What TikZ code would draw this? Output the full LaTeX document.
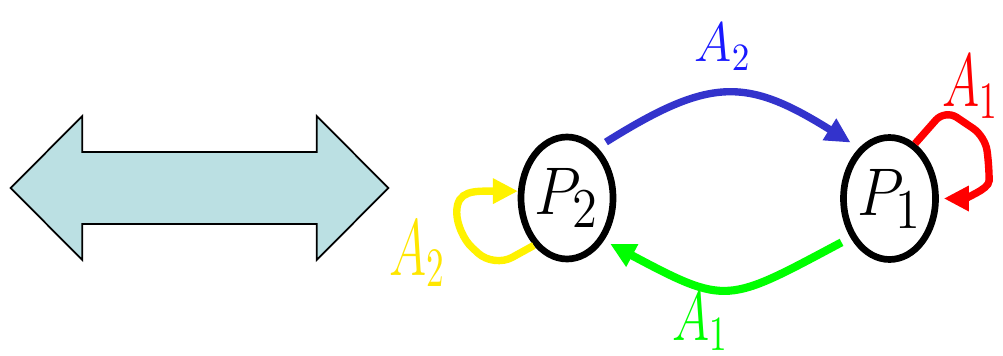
\documentclass[tikz,border=0pt]{standalone}
\usepackage{amsmath,amssymb}
\usepackage{xcolor}
\usetikzlibrary{shapes.geometric,arrows.meta}

\definecolor{arrowfill}{RGB}{187,224,227}
\definecolor{arcblue}{RGB}{51,51,204}
\definecolor{labblue}{RGB}{25,25,255}
\definecolor{labyellow}{RGB}{255,230,0}
\newcommand{\stretchlab}[2]{\scalebox{1}[#1]{$#2$}}

\begin{document}
\begin{tikzpicture}[
        state/.style={draw, ellipse, line width=1.9pt, inner xsep=-4pt, inner ysep=0pt,
            minimum width=0.92cm, minimum height=1.22cm, font=\fontsize{19}{22}\selectfont},
        actlabel/.style={anchor=base west, inner sep=0pt, font=\fontsize{14}{16}\selectfont},
        move/.style={line width=2.1pt, -{Triangle[length=0.25cm, width=0.24cm]}}
    ]
        \useasboundingbox (0,0) rectangle (10.03,3.55);

        % Big double arrow on the left
        \draw[fill=arrowfill, line width=0.5pt] (0.107,1.67) -- (0.823,2.39) -- (0.823,2.03)
            -- (3.167,2.03) -- (3.167,2.39) -- (3.883,1.67) -- (3.167,0.95) -- (3.167,1.31)
            -- (0.823,1.31) -- (0.823,0.95) -- cycle;

        % The two states
        \node[state] (P2) at (5.67,1.57) {\stretchlab{1.11}{P_2}};
        \node[state] (P1) at (8.895,1.565) {\stretchlab{1.11}{P_1}};

        % Transitions between the states
        \draw[move, arcblue, shorten <=0.1cm, shorten >=0.1cm] (P2.59) to[out=32, in=148, looseness=1.3] (P1.121);
        \draw[move, green, line width=2.3pt, shorten <=0.1cm, shorten >=0.07cm] (P1.225) to[out=208, in=-28, looseness=1.45] (P2.-49);

        % Self loops
        \draw[move, red, rounded corners=4pt, shorten >=0.05cm] (P1.65) -- ++(0.30,0.34) -- ++(0.40,-0.27)
            -- ++(0.04,-0.30) to[out=-90, in=0] (P1.0);
        \draw[move, yellow, rounded corners=6pt] (P2.235) -- ++(-0.40,-0.22) -- ++(-0.37,0.34)
            to[out=90, in=180, looseness=1.5] (P2.172);

        % Action labels
        \node[actlabel, labblue] (lab2top) at (6.94,2.93) {\stretchlab{1.1}{A_2}};
        \node[actlabel, green] (lab1bot) at (6.72,0.15) {\stretchlab{1.4}{A_1}};
        \node[actlabel, red] (lab1loop) at (9.42,2.48) {\stretchlab{1.49}{A_1}};
        \node[actlabel, labyellow] (lab2loop) at (3.89,0.80) {\stretchlab{1.58}{A_2}};
    \end{tikzpicture}
\end{document}
